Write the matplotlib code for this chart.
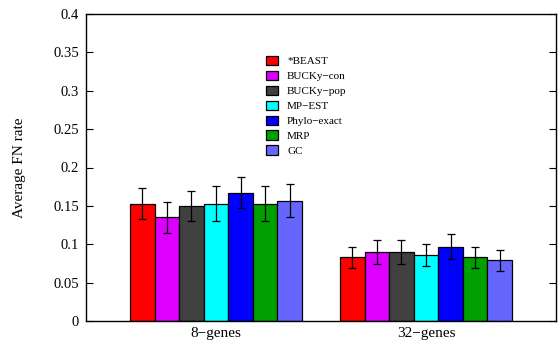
import numpy as np
from matplotlib import pyplot as plt

plt.rcParams['font.family'] = ['Liberation Serif', 'DejaVu Serif']

groups = ["8\u2212genes", "32\u2212genes"]
methods = ["*BEAST", "BUCKy\u2212con", "BUCKy\u2212pop", "MP\u2212EST",
           "Phylo\u2212exact", "MRP", "GC"]
colors = ["#ff0000", "#dd00ff", "#404040", "#00ffff", "#0000ff", "#00a000", "#6666ff"]

# average FN rate per method, [8-genes, 32-genes]
fn_8 = [0.153, 0.135, 0.150, 0.153, 0.167, 0.153, 0.157]
fn_32 = [0.083, 0.090, 0.090, 0.086, 0.097, 0.083, 0.079]
err_8 = [0.020, 0.020, 0.020, 0.023, 0.020, 0.023, 0.021]
err_32 = [0.014, 0.016, 0.016, 0.014, 0.016, 0.014, 0.014]

fig = plt.figure(figsize=(5.59, 3.5), dpi=100)
ax = fig.add_axes([86 / 559, 1 - 321 / 350, 470 / 559, 307 / 350])

x = np.arange(1, len(groups) + 1)
w = 0.1167
for i, m in enumerate(methods):
    pos = x + (i - 3) * w
    ax.bar(pos, [fn_8[i], fn_32[i]], w, color=colors[i], edgecolor="black",
           linewidth=0.9, label=m, zorder=2)
    ax.errorbar(pos, [fn_8[i], fn_32[i]], yerr=[err_8[i], err_32[i]], fmt="none",
                ecolor="black", elinewidth=0.9, capsize=2.6, capthick=0.9, zorder=3)

ax.set_xlim(0.381, 2.619)
ax.set_ylim(0, 0.4)
ax.set_yticks(np.arange(0, 0.41, 0.05))
ax.set_yticklabels(["0", "0.05", "0.1", "0.15", "0.2", "0.25", "0.3", "0.35", "0.4"])
ax.set_xticks(x)
ax.set_xticklabels(groups, fontsize=11)
ax.tick_params(axis="x", length=0, pad=4)
ax.tick_params(axis="y", direction="in", length=5, right=True, labelsize=10.5, pad=5)
for s in ax.spines.values():
    s.set_linewidth(1.0)

ax.set_ylabel("Average FN rate", fontsize=11)
ax.yaxis.set_label_coords(-0.128, 0.5)

ax.legend(loc="upper left", bbox_to_anchor=((266 - 86) / 470, (321 - 56) / 307),
          frameon=False, fontsize=8, handlelength=1.1, handleheight=0.9,
          handletextpad=0.8, labelspacing=0.4, borderpad=0, borderaxespad=0)

plt.savefig("out.png", dpi=100)
